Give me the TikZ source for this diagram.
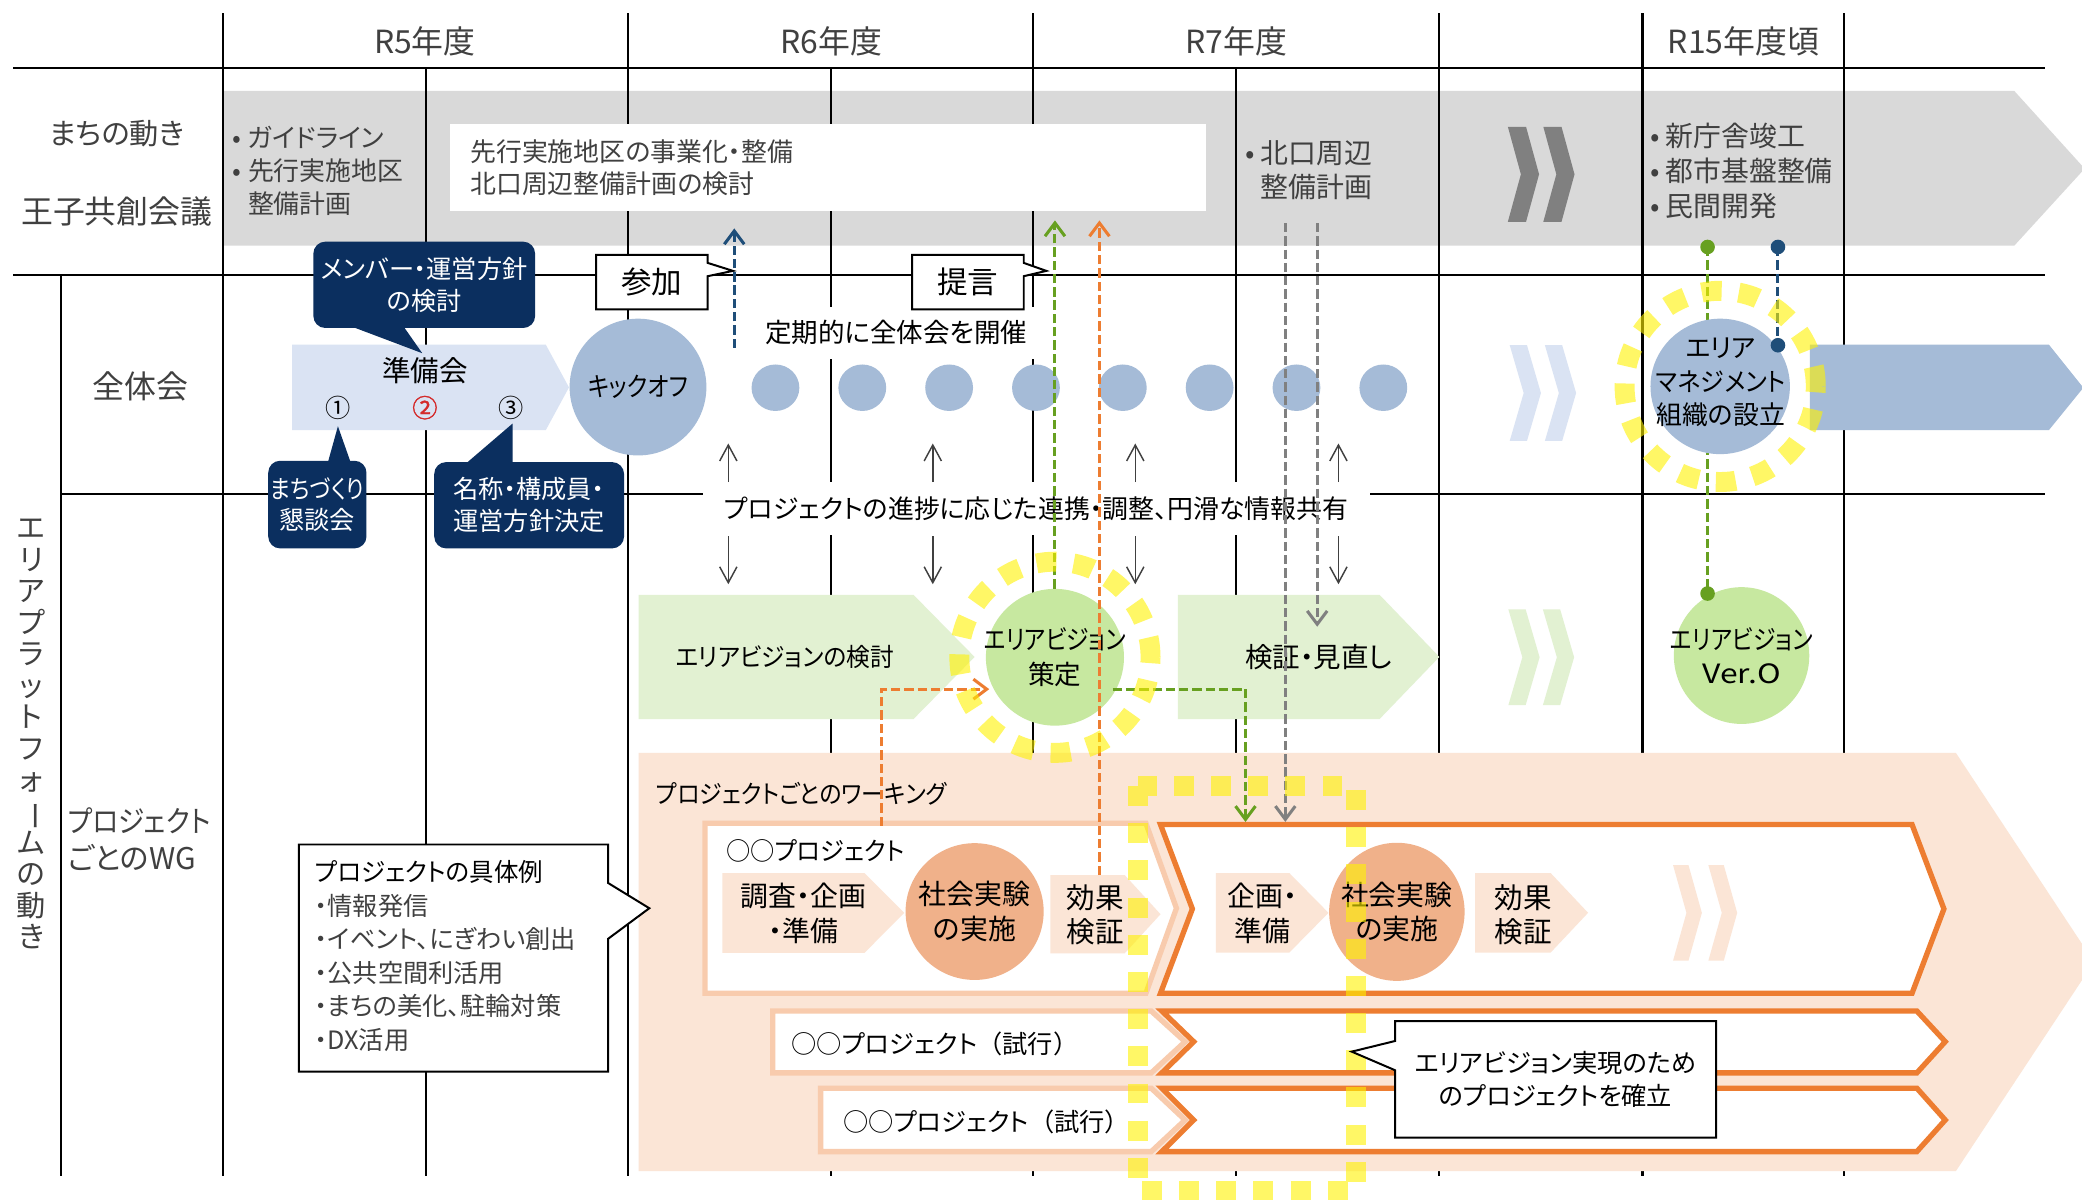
\documentclass[tikz,border=0pt]{standalone}
\usepackage{fontspec}
\setmainfont{Noto Sans CJK JP}[RawFeature=+palt]
\newfontfamily\fullw{Noto Sans CJK JP}
\newfontfamily\fakebf{Noto Sans CJK JP}[FakeBold=1.5]
\usepackage{graphicx}
\usetikzlibrary{arrows.meta,shapes.geometric}
\definecolor{tgray}{HTML}{404040}
\definecolor{bandgray}{HTML}{D9D9D9}
\definecolor{chevgray}{HTML}{808080}
\definecolor{navy}{HTML}{0B2F5F}
\definecolor{lblue}{HTML}{DAE3F3}
\definecolor{mblue}{HTML}{A5BBD7}
\definecolor{lgreen}{HTML}{E2F1D2}
\definecolor{mgreen}{HTML}{C7E8A0}
\definecolor{dgreen}{HTML}{67A020}
\definecolor{lorange}{HTML}{FBE5D6}
\definecolor{porange}{HTML}{F8CBAD}
\definecolor{salmon}{HTML}{F0B18A}
\definecolor{myorange}{HTML}{ED7D31}
\definecolor{dblue}{HTML}{1F4E79}
\definecolor{redc}{HTML}{D42A2A}
\newcommand\mychev[6]{\fill[#6] (#1,#2) -- ({#1+#4},#2) -- ({#1+#3},{#2+#5/2}) -- ({#1+#4},{#2+#5}) -- (#1,{#2+#5}) -- ({#1+#3-#4},{#2+#5/2}) -- cycle;}
\newcommand\pent[6]{\fill[#6] (#1,#2) -- (#3,#2) -- (#4,{(#2+#5)/2}) -- (#3,#5) -- (#1,#5) -- cycle;}
\newcommand\nar[2]{\scalebox{#1}[1]{#2}}
\newcommand\fs[2]{\fontsize{#1}{#2}\selectfont}
\begin{document}
\begin{tikzpicture}[x=1pt,y=-1pt,
  txt/.style={inner sep=0pt, align=center, font=\fs{19}{25}},
  gtxt/.style={txt, text=tgray},
  hdr/.style={gtxt, font=\fs{24}{28}},
  gridline/.style={line width=1.7pt, black},
  navybox/.style={fill=navy, rounded corners=9pt, inner sep=0pt, text=white, align=center, font=\fs{19}{24}},
  spbox/.style={fill=white, draw=black, line width=1.5pt},
  cdash/.style={line width=2.3pt, dash pattern=on 7pt off 3pt, -{Straight Barb[length=10pt,width=15pt]}},
  thinarr/.style={line width=1.1pt, draw=tgray, -{Straight Barb[length=12pt,width=13pt]}},
  ydash/.style={draw=yellow, draw opacity=0.6, line width=15pt, dash pattern=on 15pt off 13pt},
  dotc/.style={circle, inner sep=0pt, minimum size=11pt},
  ell/.style={ellipse, inner sep=0pt}
]
\clip (0,0) rectangle (1568,903);
\fill[white] (0,0) rectangle (1568,903);

% gray band
\fill[bandgray] (168,68.5) -- (1517,68.5) -- (1570,127) -- (1517,185) -- (168,185) -- cycle;

% grid
\draw[gridline] (10,51) -- (1540,51);
\draw[gridline] (10,207) -- (1540,207);
\draw[gridline] (46,372) -- (1540,372);
\draw[gridline] (46,207) -- (46,886);
\foreach \x in {168,473,778,1084,1237,1389} \draw[gridline] (\x,10) -- (\x,886);
\foreach \x in {321,626,931} \draw[gridline] (\x,51) -- (\x,886);

% header
\node[hdr] (h5) at (320,31) {R5年度};
\node[hdr] (h6) at (626,31) {R6年度};
\node[hdr] (h7) at (931,31) {R7年度};
\node[hdr] (h15) at (1313,31) {R15年度頃};

% left labels
\node[gtxt, font=\fs{22}{25}] (lm) at (88,101) {まちの動き};
\node[gtxt, font=\fs{24}{25}] (lo) at (88,159) {王子共創会議};
\node[gtxt, font=\fs{24}{25}] (lz) at (106,291) {全体会};
\node[gtxt, anchor=west, align=left, font=\fs{22.5}{28}] (lw) at (51,632) {\nar{0.89}{プロジェクト}\\ごとのWG};
\node[gtxt, font=\fs{22}{23.7}] (lv) at (23.5,553) {エ\\リ\\ア\\プ\\ラ\\ッ\\ト\\フ\\ォ\\\rotatebox[origin=c]{-90}{ー}\\ム\\の\\動\\き};

% gray band content
\node[gtxt, anchor=west, font=\fs{19.5}{25}] (gl) at (175,131) {\begin{tabular}{@{}l@{\hspace{5pt}}l@{}}•&ガイドライン\\•&先行実施地区\\&整備計画\end{tabular}};
\node[fill=white, anchor=north west, inner xsep=15pt, inner ysep=0pt, text width=539pt, minimum height=66pt, align=left, text=tgray, font=\fs{19.5}{24}] (wb) at (339,93) {先行実施地区の事業化・整備\\北口周辺整備計画の検討};
\node[gtxt, anchor=west, font=\fs{21}{25}] (kg) at (938,131) {\begin{tabular}{@{}l@{\hspace{4pt}}l@{}}•&北口周辺\\&整備計画\end{tabular}};
\mychev{1135.6}{95.5}{23.5}{13.7}{71.5}{chevgray}
\mychev{1162.3}{95.5}{23.5}{13.7}{71.5}{chevgray}
\node[gtxt, anchor=west, font=\fs{21}{26.5}] (r15) at (1243,131.5) {\begin{tabular}{@{}l@{\hspace{4pt}}l@{}}•&新庁舎竣工\\•&都市基盤整備\\•&民間開発\end{tabular}};

% row zentaikai
\pent{220}{259.5}{411}{428.5}{324}{lblue}
\node[txt, font=\fs{21.5}{25}] (jb) at (320,279) {準備会};
\node[txt] (n1) at (255,307) {①};
\node[txt, text=redc] (n2) at (320,307) {\fakebf ②};
\node[txt] (n3) at (385,307) {③};
\node[ell, fill=mblue, minimum width=103pt, minimum height=103pt] (ko) at (480.5,291.5) {};
\node[txt, font=\fs{20}{25}] (kot) at (ko) {\nar{0.86}{キックオフ}};
\foreach \i in {0,...,7} \node[ell, fill=mblue, minimum width=36pt, minimum height=35pt] (dot\i) at ({584+65.4*\i},292) {};
\node[txt, fill=white, minimum width=210pt, minimum height=39pt, font=\fs{20}{25}] (teiki) at (675,250.5) {定期的に全体会を開催};
\mychev{1137}{260}{23.5}{13}{72}{lblue}
\mychev{1163.5}{260}{23.5}{13}{72}{lblue}

% R15 green link (beneath the circle)
\coordinate (gd0) at (1286,186);
\coordinate (gd1) at (1286,447);
\draw[dgreen, line width=2.3pt, dash pattern=on 7pt off 3pt] (gd0) -- (gd1);

\node[ell, fill=mblue, minimum width=105pt, minimum height=102pt] (am) at (1295.5,291) {};
\node[txt, font=\fs{19.5}{25.5}] (amt) at (1296,288) {エリア\\\nar{0.93}{マネジメント}\\組織の設立};
\fill[mblue] (1363,259.5) -- (1543,259.5) -- (1569,292) -- (1543,324) -- (1363,324) -- cycle;

% row 3
\node[txt, fill=white, minimum width=502pt, minimum height=40pt, font=\fs{19.5}{25}] (prog) at (780.5,383) {プロジェクトの進捗に応じた連携・調整、円滑な情報共有};
\foreach[count=\k] \x in {548.5,702.5,855,1008} {
  \coordinate (ua\k) at (\x,363); \coordinate (ub\k) at (\x,334);
  \draw[thinarr] (ua\k) -- (ub\k);
  \coordinate (da\k) at (\x,404); \coordinate (db\k) at (\x,440);
  \draw[thinarr] (da\k) -- (db\k);
}
\pent{481}{448}{688}{734}{541.5}{lgreen}
\node[txt] (avk) at (591,495) {\nar{0.94}{エリアビジョンの検討}};
\pent{887}{448}{1039}{1084}{541.5}{lgreen}
\node[txt, font=\fs{20.7}{25}] (kv) at (993,495) {検証・見直し};
\mychev{1136}{459}{23.5}{13}{72}{lgreen}
\mychev{1162}{459}{23.5}{13}{72}{lgreen}
\node[ell, fill=mgreen, minimum width=104pt, minimum height=103pt] (ve) at (794.5,495) {};
\node[txt, font=\fs{20}{26}] (vet) at (ve) {\nar{0.86}{エリアビジョン}\\策定};
\node[ell, fill=mgreen, minimum width=102pt, minimum height=103pt] (vo) at (1311.6,493.7) {};
\node[txt, font=\fs{20}{26}] (vot) at (vo) {\nar{0.86}{エリアビジョン}\\\nar{1.2}{Ver.O}};

% orange band
\fill[lorange] (481,567) -- (1473,567) -- (1577,724.5) -- (1473,882) -- (481,882) -- cycle;
\node[txt, anchor=west] (pw) at (494,598) {\nar{0.91}{プロジェクトごとのワーキング}};

% project 1
\filldraw[fill=white, draw=porange, line width=4pt] (531,620) -- (863,620) -- (886,684) -- (863,748) -- (531,748) -- cycle;
\node[txt, anchor=west] (p1t) at (547,641) {\nar{0.96}{○○プロジェクト}};
\pent{544}{657.5}{651}{681}{717.6}{lorange}
\node[txt, font=\fs{21}{26}] (cs1) at (605,688) {調査・企画\\・準備};
\node[ell, fill=salmon, minimum width=104pt, minimum height=103pt] (se1) at (734,686.5) {};
\node[txt, font=\fs{21}{26}] (se1t) at (se1) {社会実験\\の実施};
\pent{791}{659}{847}{874}{718}{lorange}
\node[txt, font=\fs{21.5}{26}] (ek1) at (825,689) {効果\\検証};
\filldraw[fill=white, draw=myorange, line width=4pt] (874,621) -- (1440,621) -- (1464,684.5) -- (1440,748) -- (874,748) -- (898,684.5) -- cycle;
\pent{915.6}{657.5}{971}{1000.5}{717.4}{lorange}
\node[txt, font=\fs{21}{26}] (kj) at (951,688) {企画・\\準備};
\node[ell, fill=salmon, minimum width=102pt, minimum height=104pt] (se2) at (1052,686.7) {};
\node[txt, font=\fs{21}{26}] (se2t) at (se2) {社会実験\\の実施};
\pent{1111}{657.5}{1167.8}{1196}{717.4}{lorange}
\node[txt, font=\fs{21.5}{26}] (ek2) at (1147,689) {効果\\検証};
\mychev{1260}{651.5}{21.7}{11.6}{72}{lorange}
\mychev{1286.6}{651.5}{21.7}{11.6}{72}{lorange}

% projects 2 and 3
\filldraw[fill=white, draw=porange, line width=4pt] (582,761.4) -- (867,761.4) -- (892.5,784.5) -- (867,808) -- (582,808) -- cycle;
\filldraw[fill=white, draw=myorange, line width=4pt] (875,761.4) -- (1443.6,761.4) -- (1465,784.5) -- (1443.6,808) -- (875,808) -- (899,784.5) -- cycle;
\node[txt, anchor=west] (p2t) at (596,786) {○○プロジェクト{\fullw （}試行{\fullw ）}};
\filldraw[fill=white, draw=porange, line width=4pt] (618,819.5) -- (867,819.5) -- (892.5,843.5) -- (867,867.3) -- (618,867.3) -- cycle;
\filldraw[fill=white, draw=myorange, line width=4pt] (875,819.5) -- (1443.6,819.5) -- (1465,843.5) -- (1443.6,867.3) -- (875,867.3) -- (899,843.5) -- cycle;
\node[txt, anchor=west] (p3t) at (635,845) {○○プロジェクト{\fullw （}試行{\fullw ）}};

% dashed connectors
\coordinate (bA) at (553,262); \coordinate (bB) at (553,172);
\draw[cdash, dblue] (bA) -- (bB);
\coordinate (gB) at (794.5,166);
\draw[cdash, dgreen] (ve.north) -- (gB);
\coordinate (oA) at (828,659); \coordinate (oB) at (828,166);
\draw[cdash, myorange] (oA) -- (oB);
\coordinate (yA) at (968,168); \coordinate (yB) at (968,619);
\draw[cdash, chevgray] (yA) -- (yB);
\coordinate (zA) at (992,168); \coordinate (zB) at (992,472);
\draw[cdash, chevgray] (zA) -- (zB);
\coordinate (gL0) at (838,519); \coordinate (gL1) at (938,619);
\draw[cdash, dgreen] (gL0) -| (gL1);
\coordinate (oL0) at (664,622); \coordinate (oL1) at (745,519);
\draw[cdash, myorange] (oL0) |- (oL1);

% R15 dots and blue link
\coordinate (bd0) at (1339,186);
\coordinate (bd1) at (1339,260);
\draw[dblue, line width=2.3pt, dash pattern=on 7pt off 3pt] (bd0) -- (bd1);
\node[dotc, fill=dgreen] (gdot0) at (gd0) {};
\node[dotc, fill=dgreen] (gdot1) at (gd1) {};
\node[dotc, fill=dblue] (bdot0) at (bd0) {};
\node[dotc, fill=dblue] (bdot1) at (bd1) {};

% yellow highlights
\draw[ydash] (ve.center) circle (72pt);
\draw[ydash] (am.center) circle (72pt);
\draw[ydash] (857,592) rectangle (1021,897);

% callouts
\node[navybox, minimum width=167pt, minimum height=65pt] (cb1) at (319.5,214.5) {メンバー・運営方針\\の検討};
\fill[navy] (265,246) -- (304,246) -- (318,266) -- cycle;
\node[navybox, minimum width=74pt, minimum height=66pt] (cb2) at (239,380) {\nar{0.87}{まちづくり}\\懇談会};
\fill[navy] (247,348) -- (264,348) -- (254.5,321) -- cycle;
\node[navybox, minimum width=143pt, minimum height=65pt] (cb3) at (398.5,380.5) {名称・構成員・\\運営方針決定};
\fill[navy] (351,349) -- (386,349) -- (386,319) -- cycle;

\filldraw[spbox] (449,192) -- (533,192) -- (533,198) -- (552,204) -- (533,208) -- (533,233) -- (449,233) -- cycle;
\node[txt, font=\fs{23}{25}] (sanka) at (491,212.5) {参加};
\filldraw[spbox] (687,192) -- (771,192) -- (771,198) -- (788,204) -- (771,208) -- (771,233) -- (687,233) -- cycle;
\node[txt, font=\fs{23}{25}] (teigen) at (729,212.5) {提言};

\filldraw[spbox] (225,636) -- (458,636) -- (458,665) -- (489,684) -- (458,707) -- (458,807) -- (225,807) -- cycle;
\node[txt, anchor=west, align=left, text=tgray, font=\fs{19}{25.2}] (ex) at (237,720) {{\color{black}\nar{0.97}{プロジェクトの具体例}}\\・情報発信\\・イベント、にぎわい創出\\・公共空間利活用\\・まちの美化、駐輪対策\\・DX活用};

\filldraw[spbox] (1050.6,769) -- (1292.5,769) -- (1292.5,856.7) -- (1050.6,856.7) -- (1050.6,806) -- (1018,792) -- (1050.6,784) -- cycle;
\node[txt] (evc) at (1171.5,813) {エリアビジョン実現のため\\のプロジェクトを確立};
\end{tikzpicture}
\end{document}
